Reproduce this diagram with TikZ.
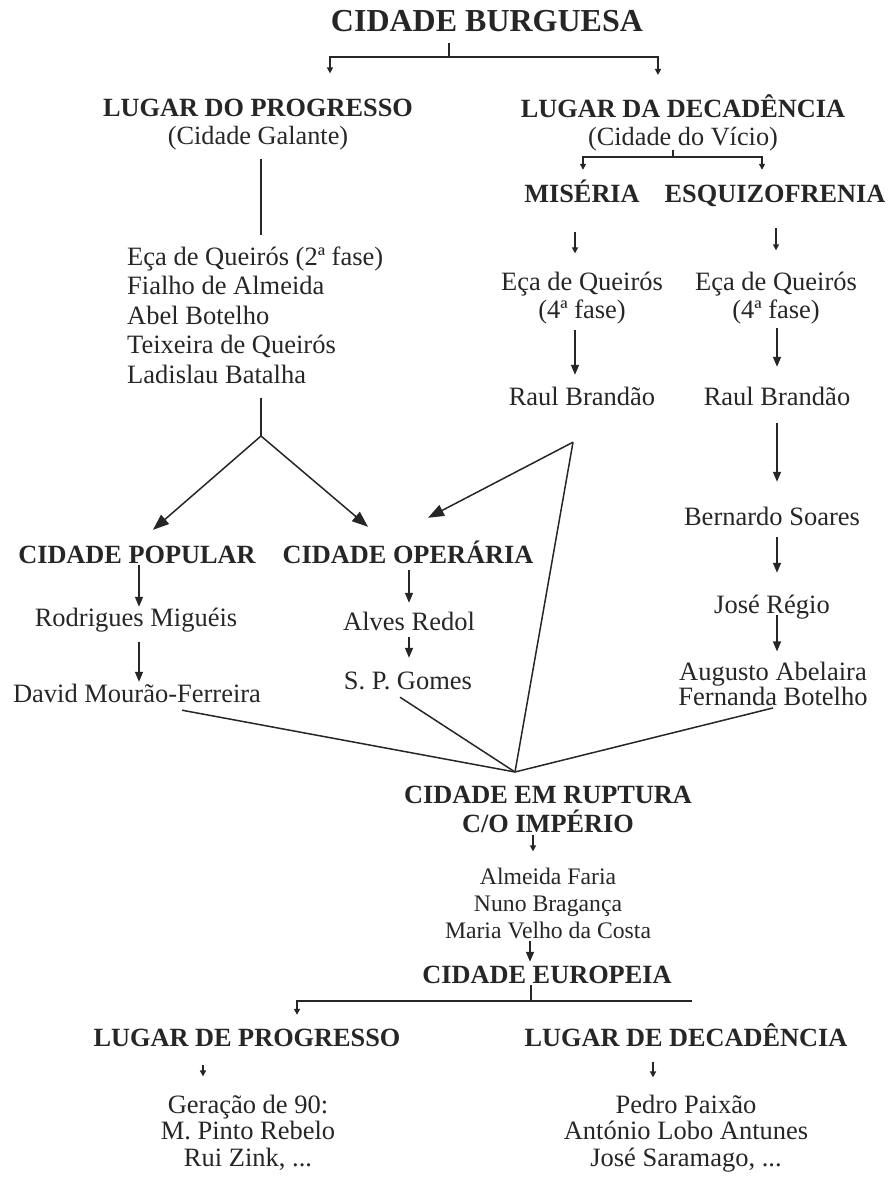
\documentclass[tikz,border=0pt]{standalone}
\usepackage{fontspec}
\setmainfont{Liberation Serif}
\usetikzlibrary{arrows.meta}
\definecolor{ink}{HTML}{262626}
\tikzset{
	txt/.style={font=\fontsize{26.5}{28}\selectfont, text=ink, inner sep=2pt, anchor=base, text height=18pt, text depth=6pt},
	head/.style={txt, font=\fontsize{26.3}{28}\selectfont\bfseries},
	multi/.style={align=center, text height=, text depth=},
	link/.style={draw=ink, line width=1.5pt},
	tipS/.style={link, -{Triangle[length=6pt,width=6pt]}},
	tipM/.style={link, -{Triangle[length=10pt,width=8pt]}},
	tipL/.style={link, -{Triangle[length=16pt,width=12pt]}},
	gap/.style 2 args={shorten <=#1, shorten >=#2},
}
\begin{document}
\begin{tikzpicture}[x=1pt,y=-1pt]
	\useasboundingbox (0,0) rectangle (891,1177);
	% top
	\draw (487,32) node[head,font=\fontsize{32}{36}\selectfont\bfseries,text height=22pt,text depth=0pt](burg) {CIDADE BURGUESA};
	\draw (258,145) node[head,multi](lugprog) {LUGAR DO PROGRESSO\\\mdseries(Cidade Galante)};
	\draw (683,146) node[head,multi](lugdec) {LUGAR DA DECADÊNCIA\\\mdseries(Cidade do Vício)};
	\draw (582,202) node[head](miseria) {MISÉRIA};
	\draw (775,202) node[head](esquizo) {ESQUIZOFRENIA};
	% authors
	\draw (125,383.4) node[txt,multi,align=left,anchor=base west,font=\fontsize{26.5}{29.6}\selectfont](progauthors) {Eça de Queirós (2ª fase)\\Fialho de Almeida\\Abel Botelho\\Teixeira de Queirós\\Ladislau Batalha};
	\draw (582,318.5) node[txt,multi,font=\fontsize{26.5}{28.5}\selectfont](miseca) {Eça de Queirós\\(4ª fase)};
	\draw (776,318.5) node[txt,multi,font=\fontsize{26.5}{28.5}\selectfont](esqeca) {Eça de Queirós\\(4ª fase)};
	\draw (582,405) node[txt](misraul) {Raul Brandão};
	\draw (777,405) node[txt](esqraul) {Raul Brandão};
	\draw (772,525) node[txt](bernardo) {Bernardo Soares};
	\draw (772,613) node[txt](regio) {José Régio};
	\draw (773,705.5) node[txt,multi,font=\fontsize{26.5}{25.5}\selectfont](abelaira) {Augusto Abelaira\\Fernanda Botelho};
	% popular / operaria
	\draw (137,563) node[head](cpop) {CIDADE POPULAR};
	\draw (408,563) node[head](coper) {CIDADE OPERÁRIA};
	\draw (136,626) node[txt](rodrigues) {Rodrigues Miguéis};
	\draw (137,702) node[txt](david) {David Mourão-Ferreira};
	\draw (409,630) node[txt](alves) {Alves Redol};
	\draw (408,689) node[txt](gomes) {S. P. Gomes};
	% bottom
	\draw (548,832) node[head,multi,font=\fontsize{26.3}{29}\selectfont\bfseries](ruptura) {CIDADE EM RUPTURA\\C/O IMPÉRIO};
	\draw (548,938) node[txt,multi,font=\fontsize{23.7}{27}\selectfont](rupauthors) {Almeida Faria\\Nuno Bragança\\Maria Velho da Costa};
	\draw (547,983) node[head](europeia) {CIDADE EUROPEIA};
	\draw (247,1046) node[head](euprog) {LUGAR DE PROGRESSO};
	\draw (686,1046) node[head](eudec) {LUGAR DE DECADÊNCIA};
	\draw (248,1166) node[txt,multi,font=\fontsize{26.5}{26.5}\selectfont](geracao) {Geração de 90:\\M. Pinto Rebelo\\Rui Zink, ...};
	\draw (686,1166) node[txt,multi,font=\fontsize{26.5}{26.5}\selectfont](pedro) {Pedro Paixão\\António Lobo Antunes\\José Saramago, ...};
	% splits
	\coordinate (burgsplit) at (449,57);
	\coordinate (decsplit) at (673,157);
	\coordinate (progsplit) at (261,436);
	\coordinate (raulsplit) at ([xshift=-9pt,yshift=-29pt]misraul.south);
	\coordinate (rupjoin) at (515,772);
	\coordinate (eurosplit) at (531,1001);
	\draw[link,shorten <=9pt] (burg.south -| burgsplit) -- (burgsplit);
	\draw[tipS,shorten >=24pt] (burgsplit) -| ([xshift=72pt]lugprog.north);
	\draw[tipS,shorten >=18pt] (burgsplit) -| ([xshift=-25pt]lugdec.north);
	\draw[link,shorten <=-4pt] (lugdec.south -| decsplit) -- (decsplit);
	\draw[tipS,shorten >=12pt] (decsplit) -| ([xshift=1pt]miseria.north);
	\draw[tipS,shorten >=12pt] (decsplit) -| ([xshift=-13pt]esquizo.north);
	\draw[link,gap={6pt}{9pt}] (lugprog.south -| progsplit) -- (progauthors.north -| progsplit);
	% right columns
	\draw[tipS,gap={22pt}{16pt}] ([xshift=-7pt]miseria.south) -- ([xshift=-7pt]miseca.north);
	\draw[tipS,gap={18pt}{19pt}] ([xshift=1pt]esquizo.south) -- (esqeca.north);
	\draw[tipM,gap={4pt}{10pt}] ([xshift=-7pt]miseca.south) -- ([xshift=-7pt]misraul.north);
	\draw[tipM,gap={2pt}{18pt}] ([xshift=1pt]esqeca.south) -- (esqraul.north);
	\draw[tipM,gap={10pt}{23pt}] (esqraul.south) -- ([xshift=5pt]bernardo.north);
	\draw[tipM,gap={4pt}{20pt}] ([xshift=5pt]bernardo.south) -- ([xshift=5pt]regio.north);
	\draw[tipM,gap={-6pt}{8pt}] ([xshift=5pt]regio.south) -- ([xshift=4pt]abelaira.north);
	% to popular and operaria
	\draw[link,shorten <=12pt] (progauthors.south -| progsplit) -- (progsplit);
	\draw[tipL] (progsplit) -- ([xshift=16pt,yshift=13pt]cpop.north);
	\draw[tipL] (progsplit) -- ([xshift=-40pt,yshift=16pt]coper.north);
	\draw[tipL] (raulsplit) -- ([xshift=20pt,yshift=25pt]coper.north);
	\draw[tipM,gap={-6pt}{-1pt}] ([xshift=2pt]cpop.south) -- ([xshift=3pt]rodrigues.north);
	\draw[tipM,gap={8pt}{0pt}] ([xshift=3pt]rodrigues.south) -- ([xshift=2pt]david.north);
	\draw[tipM,gap={-1pt}{7pt}] ([xshift=1pt]coper.south) -- (alves.north);
	\draw[tipM,gap={-1pt}{11pt}] (alves.south) -- ([xshift=1pt]gomes.north);
	% rupture
	\draw[link] (raulsplit) -- (rupjoin);
	\draw[link] ([xshift=45pt]david.south) -- (rupjoin);
	\draw[link] ([xshift=-8pt]gomes.south) -- (rupjoin);
	\draw[link] (abelaira.south) -- (rupjoin);
	\draw[tipS,gap={1pt}{14pt}] ([xshift=-15pt]ruptura.south) -- ([xshift=-15pt]rupauthors.north);
	\draw[tipM,gap={0pt}{1pt}] ([xshift=-18pt]rupauthors.south) -- ([xshift=-17pt]europeia.north);
	\draw[link,shorten <=-6pt] (europeia.south -| eurosplit) -- (eurosplit);
	\draw[tipS,shorten >=11pt] (eurosplit) -| ([xshift=50pt]euprog.north);
	\draw[link,shorten >=-6pt] (eurosplit) -- (eurosplit -| eudec.north);
	\draw[tipS,gap={11pt}{16pt}] ([xshift=-44pt]euprog.south) -- ([xshift=-45pt]geracao.north);
	\draw[tipS,gap={8pt}{15pt}] ([xshift=-33pt]eudec.south) -- ([xshift=-33pt]pedro.north);
\end{tikzpicture}
\end{document}
